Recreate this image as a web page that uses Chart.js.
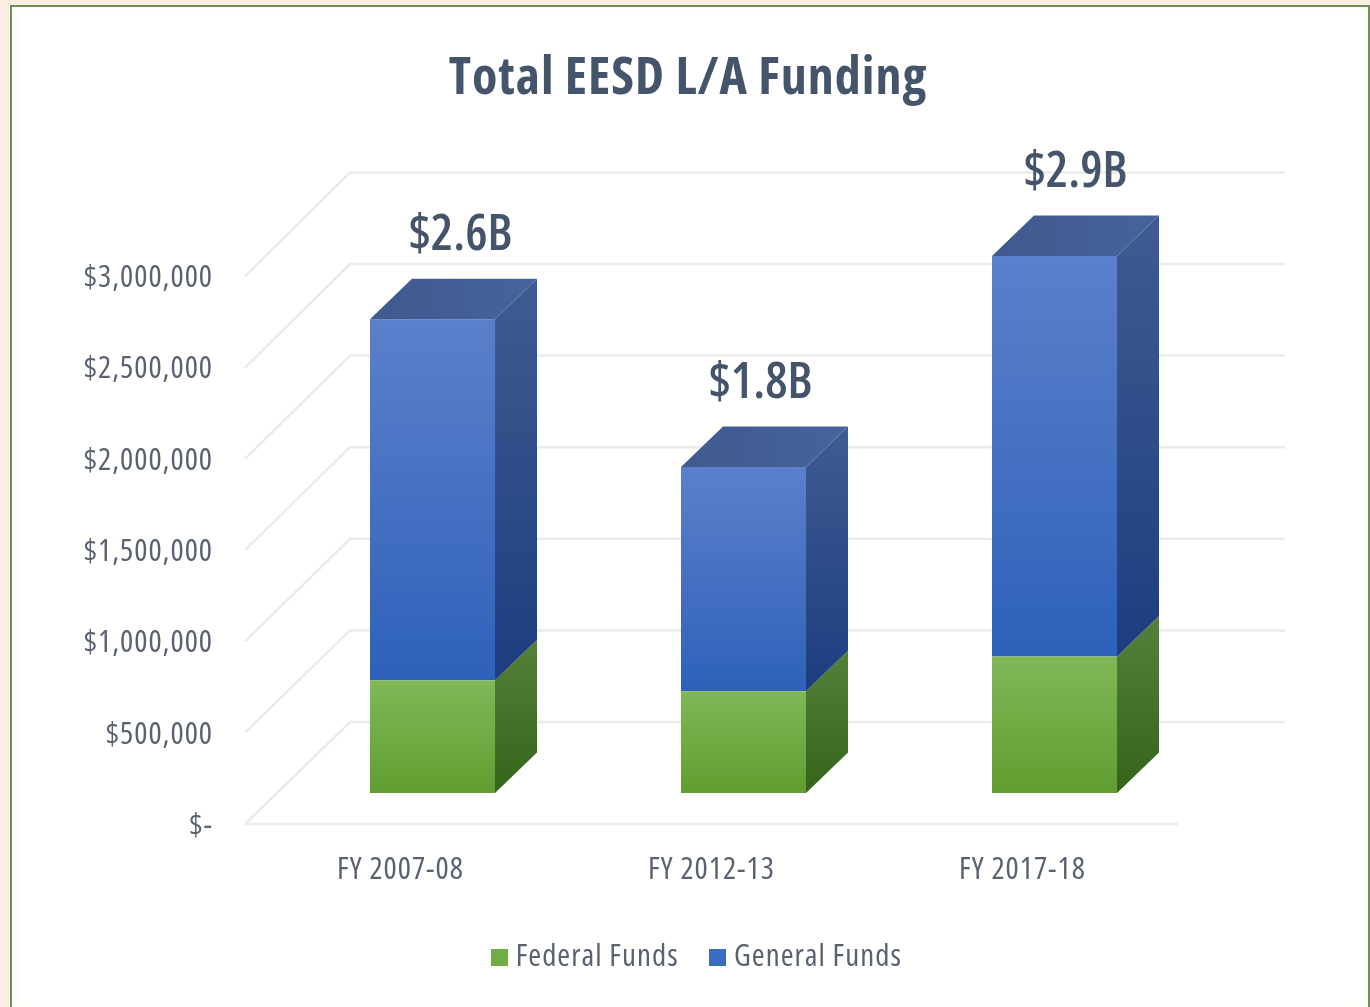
<!DOCTYPE html>
<html>
<head>
<meta charset="utf-8">
<script src="https://cdn.jsdelivr.net/npm/chart.js@4"></script>
<style>
html,body{margin:0;padding:0;width:1370px;height:1007px;overflow:hidden;background:#fdeee3}
#frame{position:absolute;left:10px;top:5px;width:1356px;height:1002px;border:2px solid #6c8f5c;border-bottom:none;background:#fff;box-shadow:inset 0 0 14px #f6fbf0}
#c{position:absolute;left:0;top:0;filter:blur(0.55px)}
</style>
</head>
<body>
<div id="frame"></div>
<canvas id="c" width="1370" height="1007"></canvas>
<script>
const categories = ["FY 2007-08", "FY 2012-13", "FY 2017-18"];
const federalFunds = [616000, 556000, 747000];
const generalFunds = [1975000, 1227000, 2190000];
const totalLabels = ["$2.6B", "$1.8B", "$2.9B"];
const tickValues = [0, 500000, 1000000, 1500000, 2000000, 2500000, 3000000];
const labelShift = [28, 17, 21];

const FONT = '"Open Sans",sans-serif';
const TEXT = '#5a6270';
const DEPTH_X = 42, DEPTH_Y = 40.5, BAR_SHIFT = 32;
const PLOT_BOTTOM = 824, PAD_BOTTOM = 24;

function swatch(color){
  const s = document.createElement('canvas');
  s.width = 17; s.height = 17;
  const g = s.getContext('2d');
  g.fillStyle = color; g.fillRect(0,0,17,17);
  return s;
}
function faceGradient(c, y0, y1, top, bottom){
  const g = c.createLinearGradient(0,y0,0,y1);
  g.addColorStop(0,top); g.addColorStop(1,bottom);
  return g;
}
function barFill(top, bottom){
  return function(ctx){
    const area = ctx.chart.chartArea;
    if(!area || !ctx.parsed) return bottom;
    const sc = ctx.chart.scales.y;
    const stack = ctx.datasetIndex === 0 ? 0 : federalFunds[ctx.dataIndex];
    const val = ctx.dataset.data[ctx.dataIndex];
    return faceGradient(ctx.chart.ctx, sc.getPixelForValue(stack+val), sc.getPixelForValue(stack), top, bottom);
  };
}
const sideColors = [['#55803a','#35641a'],['#3f5c92','#1c3d7e']];

const scene = {
  id:'scene',
  beforeUpdate(chart){ chart.ctx.letterSpacing = '1px'; },
  afterLayout(chart){
    chart.legend.left += 111; chart.legend.right += 111;
    chart.titleBlock.left += 99; chart.titleBlock.right += 99;
  },
  beforeDatasetsDraw(chart){
    const {ctx, chartArea:a, scales} = chart;
    const front = scales.yLabel, back = scales.yBack;
    ctx.save();
    ctx.strokeStyle = '#ebebeb'; ctx.lineWidth = 2.5; ctx.lineJoin='round';
    const farRight = a.right + 107, wallX = a.left + 105;
    front.ticks.forEach(t=>{
      ctx.beginPath();
      ctx.moveTo(a.left, front.getPixelForValue(t.value));
      ctx.lineTo(wallX, back.getPixelForValue(t.value));
      ctx.lineTo(farRight, back.getPixelForValue(t.value));
      ctx.stroke();
    });
    ctx.beginPath();
    ctx.moveTo(a.left, front.getPixelForValue(0));
    ctx.lineTo(a.right, front.getPixelForValue(0));
    ctx.stroke();
    ctx.restore();
    ctx.save();
    ctx.translate(BAR_SHIFT,0);
  },
  afterDatasetsDraw(chart){
    const ctx = chart.ctx;
    chart.data.datasets.forEach((ds,di)=>{
      chart.getDatasetMeta(di).data.forEach(el=>{
        const r = el.x + el.width/2, l = el.x - el.width/2, t = el.y, b = el.base;
        ctx.fillStyle = faceGradient(ctx, t-DEPTH_Y, b, sideColors[di][0], sideColors[di][1]);
        ctx.beginPath();
        ctx.moveTo(r,t); ctx.lineTo(r+DEPTH_X,t-DEPTH_Y); ctx.lineTo(r+DEPTH_X,b-DEPTH_Y); ctx.lineTo(r,b);
        ctx.closePath(); ctx.fill();
        if(di === 1){
          const g = ctx.createLinearGradient(l,0,r+DEPTH_X,0);
          g.addColorStop(0,'#40598f'); g.addColorStop(1,'#48639c');
          ctx.fillStyle = g;
          ctx.beginPath();
          ctx.moveTo(l,t); ctx.lineTo(l+DEPTH_X,t-DEPTH_Y); ctx.lineTo(r+DEPTH_X,t-DEPTH_Y); ctx.lineTo(r,t);
          ctx.closePath(); ctx.fill();
        }
      });
    });
    ctx.letterSpacing = '0px';
    ctx.fillStyle = '#44546a';
    ctx.font = '600 condensed 50px ' + FONT;
    ctx.textAlign = 'center'; ctx.textBaseline = 'middle';
    chart.getDatasetMeta(1).data.forEach((el,i)=>{
      ctx.fillText(totalLabels[i], el.x + labelShift[i], el.y - DEPTH_Y - 43);
    });
    ctx.restore();
  }
};

new Chart(document.getElementById('c'), {
  type:'bar',
  data:{
    labels:categories,
    datasets:[
      {label:'Federal Funds', data:federalFunds, xAxisID:'x', yAxisID:'y', backgroundColor:barFill('#80b858','#5f9e2f'), clip:false,
       categoryPercentage:1, barPercentage:0.402},
      {label:'General Funds', data:generalFunds, xAxisID:'x', yAxisID:'y', backgroundColor:barFill('#5b80cb','#2e61ba'), clip:false,
       categoryPercentage:1, barPercentage:0.402}
    ]
  },
  options:{
    responsive:false, animation:false,
    layout:{padding:{left:0,right:192,top:0,bottom:PAD_BOTTOM}},
    plugins:{
      title:{display:true, text:'Total EESD L/A Funding', color:'#44546a',
        font:{family:FONT,size:52,weight:'bold condensed'}, padding:{top:48,bottom:62}},
      legend:{position:'bottom', labels:{
        color:TEXT, font:{family:FONT,size:31,weight:'normal condensed'}, padding:38,
        usePointStyle:true, boxWidth:2,
        generateLabels(chart){
          const colors = ['#70ad47','#3a6cc0'];
          return chart.data.datasets.map((d,i)=>({text:d.label,datasetIndex:i,fontColor:TEXT,
            hidden:false,pointStyle:swatch(colors[i]),fillStyle:colors[i],strokeStyle:colors[i],lineWidth:0}));
        }
      }},
      tooltip:{enabled:false}
    },
    scales:{
      x:{stacked:true, grid:{display:false}, border:{display:false},
        ticks:{color:TEXT,font:{family:FONT,size:31,weight:'normal condensed'},padding:20,maxRotation:0},
        afterFit(s){ s.height = s.chart.height - PLOT_BOTTOM - PAD_BOTTOM - s.chart.legend.height; }},
      yLabel:{position:'left', min:0, max:3569343, grid:{display:false,drawTicks:false}, border:{display:false},
        afterBuildTicks(s){ s.ticks = tickValues.map(v=>({value:v})); },
        ticks:{color:TEXT,font:{family:FONT,size:31,weight:'normal condensed'},padding:32,labelOffset:2,
          callback:v=> v===0 ? '$-' : '$'+Number(v).toLocaleString('en-US')},
        afterFit(s){ s.width = 245; }},
      y:{display:false, stacked:true, min:-169399, max:3393443},
      yBack:{display:false, position:'left', min:-556364, max:3000000}
    }
  },
  plugins:[scene]
});
</script>
</body>
</html>
